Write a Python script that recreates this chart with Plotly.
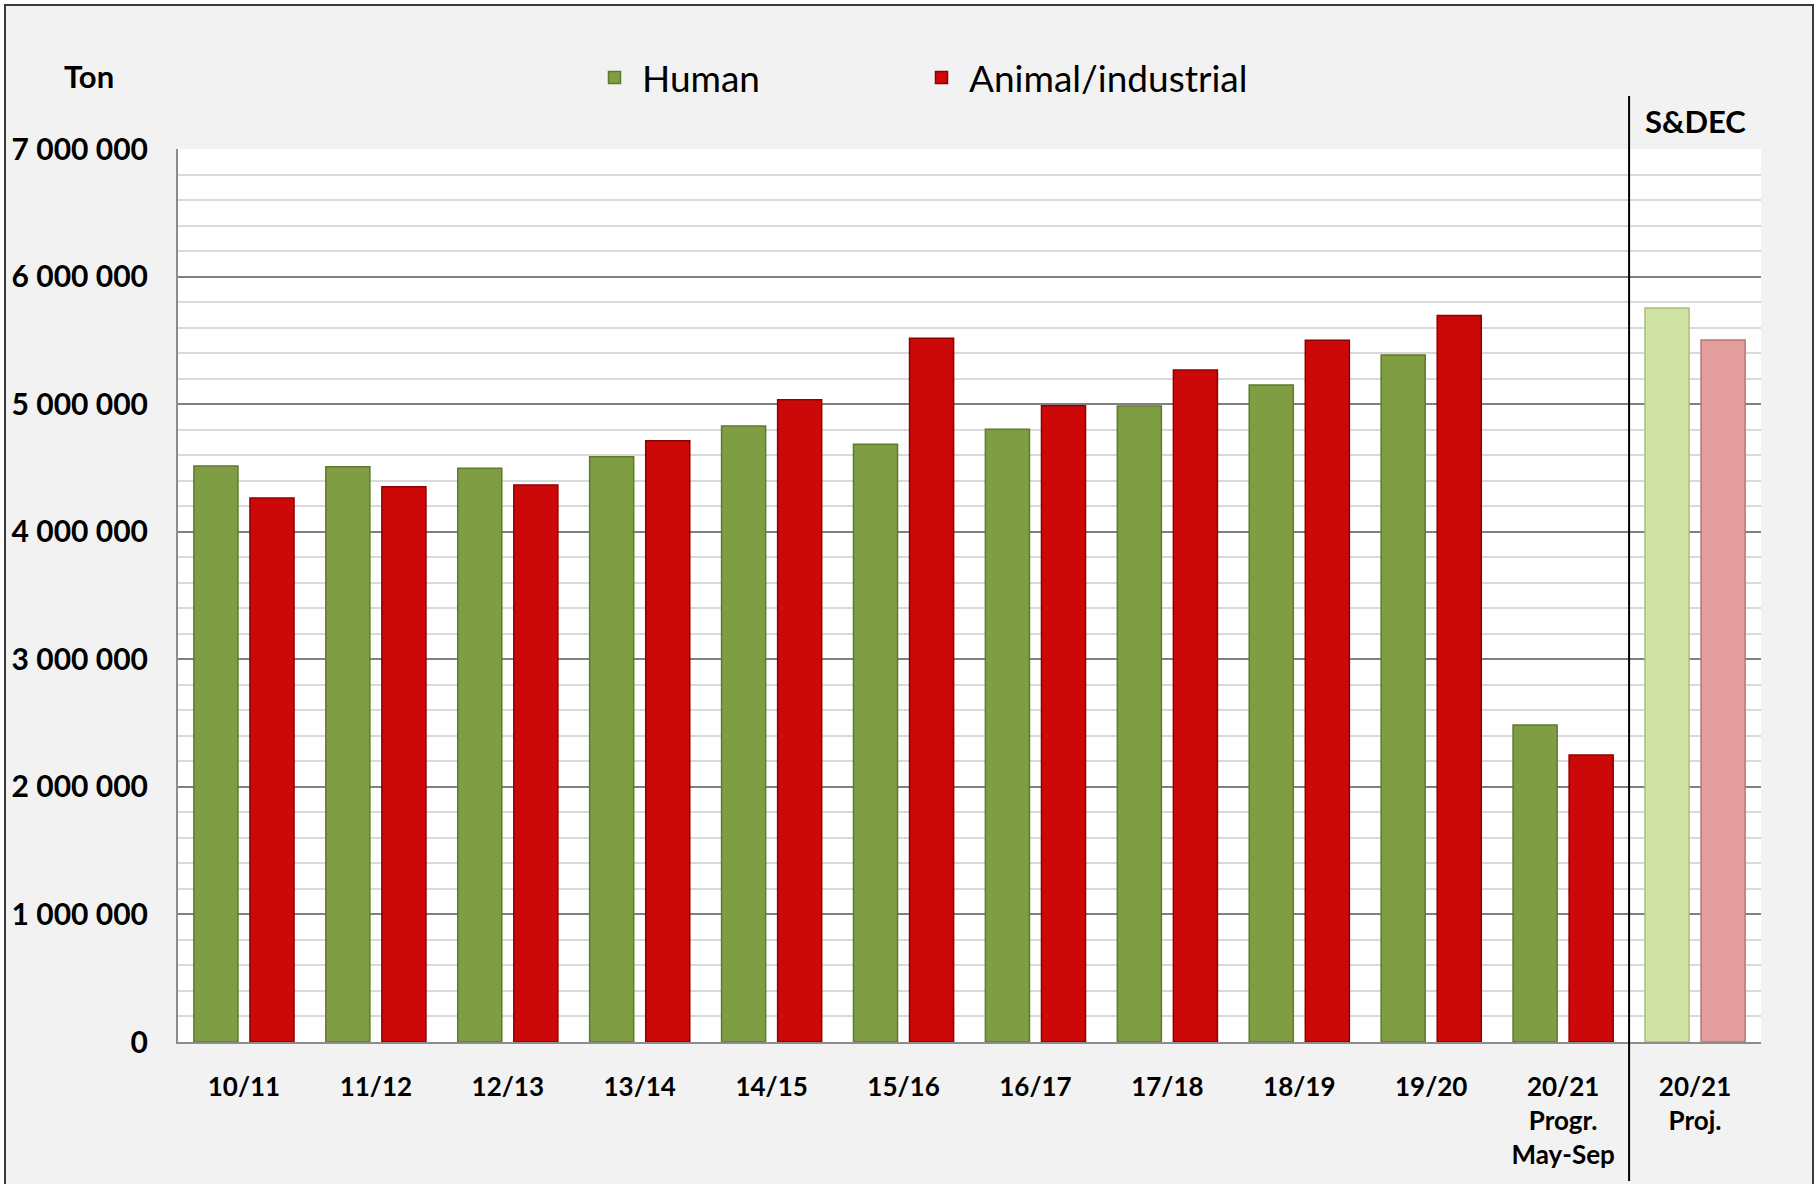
import plotly.graph_objects as go

# ---------------- data ----------------
categories = ["10/11", "11/12", "12/13", "13/14", "14/15", "15/16", "16/17",
              "17/18", "18/19", "19/20", "20/21<br>Progr.<br>May-Sep", "20/21<br>Proj."]
human = [4515000, 4510000, 4497000, 4588000, 4829000, 4685000, 4803000,
         4985000, 5150000, 5385000, 2485000, 5754000]
animal = [4264000, 4353000, 4366000, 4714000, 5034000, 5516000, 4988000,
          5268000, 5500000, 5694000, 2250000, 5503000]
series_names = ["Human", "Animal/industrial"]
y_unit = "Ton"
proj_label = "S&DEC"

# ---------------- styles ----------------
GREEN, GREEN_LIGHT = "#7f9d42", "#d0e2a4"
RED, RED_LIGHT = "#cc0808", "#e49d9d"
human_colors = [GREEN] * (len(categories) - 1) + [GREEN_LIGHT]
animal_colors = [RED] * (len(categories) - 1) + [RED_LIGHT]
human_edges = ["#5f7a2c"] * (len(categories) - 1) + ["#a9bf7c"]
animal_edges = ["#8e0000"] * (len(categories) - 1) + ["#b97676"]

W, H = 1819, 1184
ML, MR, MT, MB = 178, 58, 149, 142
PW, PH = W - ML - MR, H - MT - MB


def px_x(x):
    return (x - ML) / PW


def px_y(y):
    return (H - MB - y) / PH


FONT = "Lato"

fig = go.Figure()
fig.add_trace(go.Bar(x=categories, y=human, name=series_names[0], legend="legend",
                     marker=dict(color=human_colors,
                                 line=dict(color=human_edges, width=1.5))))
fig.add_trace(go.Bar(x=categories, y=animal, name=series_names[1], legend="legend2",
                     marker=dict(color=animal_colors,
                                 line=dict(color=animal_edges, width=1.5))))

shapes = [
    # grey chart-area background with dark frame
    dict(type="rect", xref="paper", yref="paper", layer="below",
         x0=px_x(5), x1=px_x(1813), y0=px_y(1200), y1=px_y(5),
         fillcolor="#f2f2f2", line=dict(color="#3a3a3a", width=2)),
    # white plot area
    dict(type="rect", xref="paper", yref="paper", layer="below",
         x0=0, x1=1, y0=0, y1=1, fillcolor="white", line=dict(width=0)),
    # divider between history and projection
    dict(type="line", xref="paper", yref="paper", layer="above",
         x0=(len(categories) - 1) / len(categories), x1=(len(categories) - 1) / len(categories),
         y0=px_y(1181), y1=px_y(96), line=dict(color="black", width=2)),
]

annotations = [
    dict(text=y_unit, xref="paper", yref="paper", x=px_x(89), y=px_y(76),
         showarrow=False, xanchor="center", yanchor="middle",
         font=dict(family=FONT, size=31, weight="bold", color="black")),
    dict(text=proj_label, xref="x", yref="paper", x=categories[-1], y=px_y(121),
         showarrow=False, xanchor="center", yanchor="middle",
         font=dict(family=FONT, size=31, weight="bold", color="black")),
]

legend_common = dict(orientation="h", xref="container", yref="container",
                     xanchor="left", yanchor="middle", itemwidth=45,
                     bgcolor="rgba(0,0,0,0)",
                     font=dict(family=FONT, size=37, color="black"))

fig.update_layout(
    width=W, height=H,
    margin=dict(l=ML, r=MR, t=MT, b=MB, autoexpand=False),
    paper_bgcolor="white",
    plot_bgcolor="white",
    separators=", ",
    barmode="group",
    bargap=0.15,
    bargroupgap=0.214,
    shapes=shapes,
    annotations=annotations,
    showlegend=True,
    legend=dict(legend_common, x=(611 - 24) / W, y=1 - 78 / H),
    legend2=dict(legend_common, x=(938 - 24) / W, y=1 - 78 / H),
    xaxis=dict(
        type="category", automargin=False,
        showline=True, linecolor="#8c8c8c", linewidth=2,
        showgrid=False, ticks="",
        ticklabelstandoff=21,
        tickfont=dict(family=FONT, size=26, weight="bold", color="black"),
    ),
    yaxis=dict(
        range=[0, 7000000], dtick=1000000, tick0=0, automargin=False,
        tickformat=",d",
        showline=True, linecolor="#8c8c8c", linewidth=2,
        showgrid=True, gridcolor="#808080", gridwidth=1.5,
        minor=dict(dtick=200000, showgrid=True, gridcolor="#d9d9d9", gridwidth=2),
        zeroline=False, ticks="",
        ticklabelstandoff=22,
        tickfont=dict(family=FONT, size=30, weight="bold", color="black"),
    ),
)

fig.write_html("out.html", config={"displayModeBar": False},
               post_script="document.body.style.margin='0';")
